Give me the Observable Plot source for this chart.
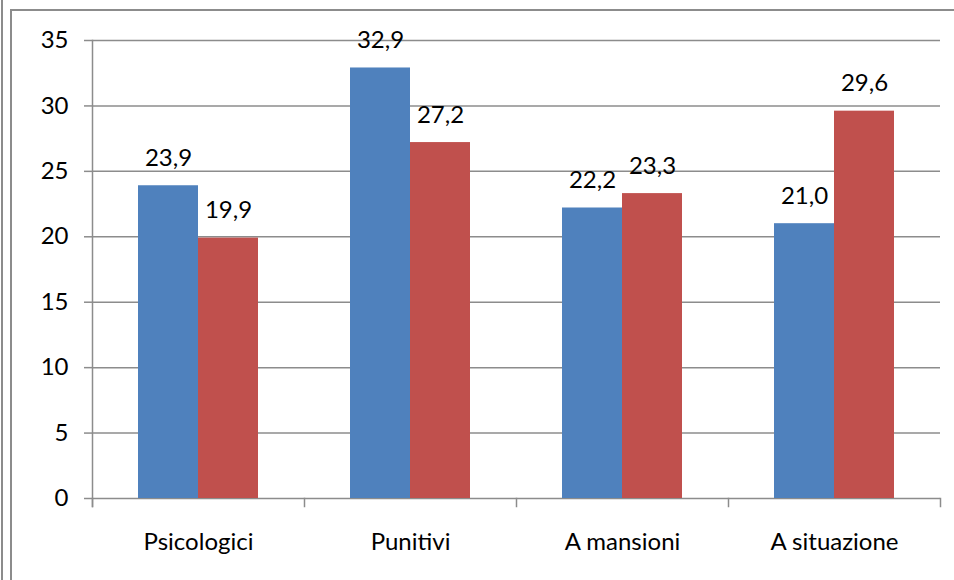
<!DOCTYPE html>
<html><head><meta charset="utf-8">
<script src="https://cdn.jsdelivr.net/npm/d3@7"></script>
<script src="https://cdn.jsdelivr.net/npm/@observablehq/plot@0.6"></script>
<style>
body{margin:0;background:#fff;}
#wrap{position:relative;width:954px;height:580px;overflow:hidden;background:#fff;}
.ln{position:absolute;background:#8c8c8c;}
#chart{position:absolute;left:0;top:0;}
</style></head>
<body>
<div id="wrap">
  <div class="ln" style="left:1px;top:0;width:2px;height:580px"></div>
  <div class="ln" style="left:10px;top:9px;width:2px;height:571px"></div>
  <div class="ln" style="left:10px;top:9px;width:944px;height:2px"></div>
  <div id="chart"></div>
</div>
<script>
const categories = ["Psicologici", "Punitivi", "A mansioni", "A situazione"];
const series = ["Serie 1", "Serie 2"];
const values1 = [23.9, 32.9, 22.2, 21.0];
const values2 = [19.9, 27.2, 23.3, 29.6];
const yTicks = [0, 5, 10, 15, 20, 25, 30, 35];

const data = categories.flatMap((c, i) => [
  {cat: c, s: series[0], v: values1[i]},
  {cat: c, s: series[1], v: values2[i]}
]);
const fmt = v => v.toFixed(1).replace(".", ",");

const W = 954, H = 580, mt = 40, mb = 82, ml = 91, mr = 13;
const innerH = H - mt - mb;
const gray = "#8c8c8c";
const FS = 24;

const chart = Plot.plot({
  width: W, height: H,
  marginLeft: ml, marginRight: mr, marginTop: mt, marginBottom: mb,
  style: {fontFamily: "Lato, 'Open Sans', sans-serif", fontSize: FS + "px", color: "#000", background: "transparent", overflow: "visible"},
  fx: {domain: categories, padding: 0, label: null},
  x: {domain: series, paddingInner: 0, paddingOuter: 0.74, axis: null},
  y: {domain: [0, 35], label: null},
  color: {domain: series, range: ["#4F81BD", "#C0504D"]},
  marks: [
    Plot.gridY(yTicks, {stroke: gray, strokeOpacity: 1, strokeWidth: 1.5}),
    Plot.axisY(yTicks, {tickSize: 8, tickPadding: 16, tickFormat: d => d, stroke: gray, strokeWidth: 1.5, fill: "#000", fontSize: FS, label: null}),
    Plot.frame({anchor: "left", facetAnchor: "left", insetBottom: -8, stroke: gray, strokeWidth: 1.5}),
    Plot.frame({anchor: "left", insetTop: innerH, insetBottom: -8, stroke: gray, strokeWidth: 1.5}),
    Plot.frame({anchor: "right", facetAnchor: "right", insetTop: innerH, insetBottom: -8, stroke: gray, strokeWidth: 1.5}),
    Plot.barY(data, {fx: "cat", x: "s", y: "v", fill: "s"}),
    Plot.text(data, {fx: "cat", x: "s", y: "v", text: d => fmt(d.v), lineAnchor: "bottom", dy: -20, fontSize: FS, fill: "#000"}),
    Plot.axisFx({anchor: "bottom", tickSize: 0, tickPadding: 34, fontSize: FS, fill: "#000", label: null})
  ]
});
document.getElementById("chart").appendChild(chart);
</script>
</body></html>
